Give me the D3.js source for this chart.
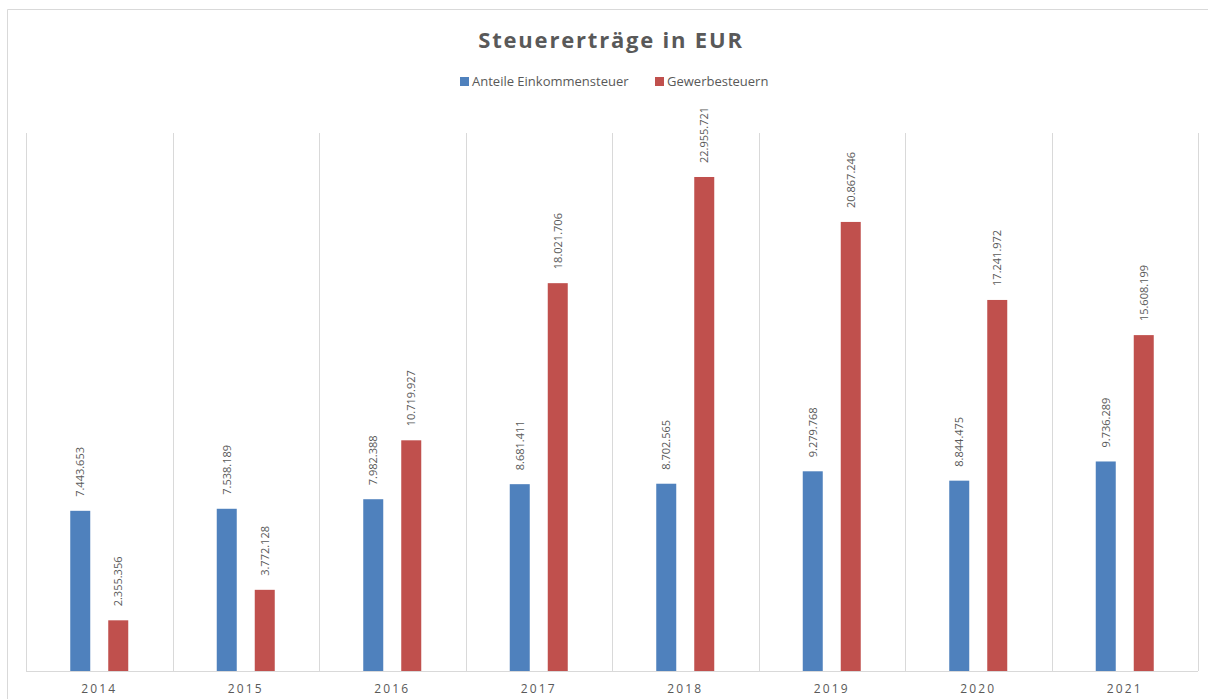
<!DOCTYPE html>
<html>
<head>
<meta charset="utf-8">
<script src="https://cdn.jsdelivr.net/npm/d3@7"></script>
<style>
  body { margin: 0; background: #fff; }
  text { font-family: "Open Sans", "Noto Sans", sans-serif; fill: #595959; }
</style>
</head>
<body>
<script>
// chart data
var years = ["2014", "2015", "2016", "2017", "2018", "2019", "2020", "2021"];
var einkommensteuer = [7443653, 7538189, 7982388, 8681411, 8702565, 9279768, 8844475, 9736289];
var gewerbesteuer = [2355356, 3772128, 10719927, 18021706, 22955721, 20867246, 17241972, 15608199];
var seriesNames = ["Anteile Einkommensteuer", "Gewerbesteuern"];
var seriesColors = ["#4f81bd", "#c0504d"];

var width = 1208, height = 699;
var margin = {top: 133, right: 10, bottom: 28, left: 26};
var plotW = 1198 - margin.left, plotH = 671 - margin.top;

var svg = d3.select("body").append("svg")
    .attr("width", width)
    .attr("height", height);

// outer chart frame
svg.append("path")
    .attr("d", "M1208,9.5 H7.5 V699")
    .attr("fill", "none")
    .attr("stroke", "#d9d9d9")
    .attr("stroke-width", 1);

// title
svg.append("text")
    .attr("x", 611)
    .attr("y", 48)
    .attr("text-anchor", "middle")
    .style("font-size", "22px")
    .style("font-weight", "bold")
    .style("letter-spacing", "1.8px")
    .text("Steuererträge in EUR");

// legend
var legendX = [460, 655];
seriesNames.forEach(function (name, i) {
    svg.append("rect")
        .attr("x", legendX[i]).attr("y", 77)
        .attr("width", 9).attr("height", 9)
        .attr("fill", seriesColors[i]);
    svg.append("text")
        .attr("x", legendX[i] + 12).attr("y", 86)
        .style("font-size", "13px")
        .text(name);
});

var g = svg.append("g")
    .attr("transform", "translate(" + margin.left + "," + margin.top + ")");

var x = d3.scaleBand().domain(years).range([0, plotW]);
var y = d3.scaleLinear().domain([0, 25000000]).range([plotH, 0]);

// vertical category separators
g.selectAll(".sep")
    .data(d3.range(years.length + 1))
    .enter().append("line")
    .attr("class", "sep")
    .attr("x1", function (i) { return Math.round(i * x.step()) + 0.5; })
    .attr("x2", function (i) { return Math.round(i * x.step()) + 0.5; })
    .attr("y1", 0)
    .attr("y2", plotH)
    .attr("stroke", "#d9d9d9");

// baseline
g.append("line")
    .attr("x1", 0).attr("x2", plotW)
    .attr("y1", plotH + 0.5).attr("y2", plotH + 0.5)
    .attr("stroke", "#d9d9d9");

// category labels
g.selectAll(".year")
    .data(years)
    .enter().append("text")
    .attr("class", "year")
    .attr("x", function (d) { return x(d) + x.bandwidth() / 2; })
    .attr("y", plotH + 22)
    .attr("text-anchor", "middle")
    .style("font-size", "12px")
    .style("letter-spacing", "2.2px")
    .text(function (d) { return d; });

var barW = 20;
var offsets = [-19, 19];
var fmt = function (v) { return d3.format(",")(v).replace(/,/g, "."); };

[einkommensteuer, gewerbesteuer].forEach(function (vals, s) {
    var data = years.map(function (yr, i) { return {key: yr, value: vals[i]}; });

    g.selectAll(".bar" + s)
        .data(data)
        .enter().append("rect")
        .attr("class", "bar" + s)
        .attr("x", function (d) { return x(d.key) + x.bandwidth() / 2 + offsets[s] - barW / 2; })
        .attr("y", function (d) { return y(d.value); })
        .attr("width", barW)
        .attr("height", function (d) { return plotH - y(d.value); })
        .attr("fill", seriesColors[s]);

    g.selectAll(".lbl" + s)
        .data(data)
        .enter().append("text")
        .attr("class", "lbl" + s)
        .attr("transform", function (d) {
            var cx = x(d.key) + x.bandwidth() / 2 + offsets[s] + 4;
            return "translate(" + cx + "," + (y(d.value) - 14) + ") rotate(-90)";
        })
        .style("font-size", "11px")
        .text(function (d) { return fmt(d.value); });
});
</script>
</body>
</html>
